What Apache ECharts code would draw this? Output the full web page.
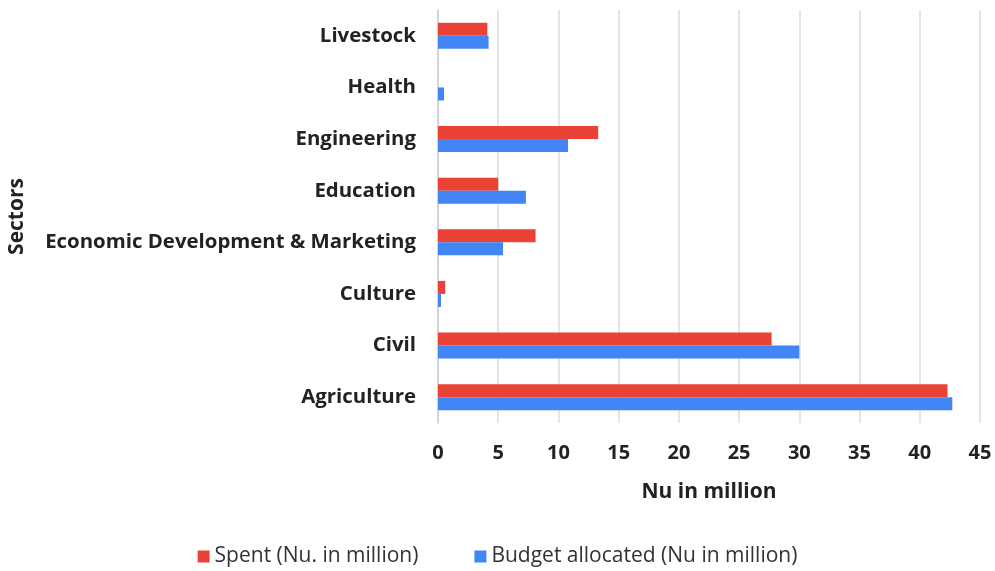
<!DOCTYPE html>
<html>
<head>
<meta charset="utf-8">
<script src="https://cdn.jsdelivr.net/npm/echarts@6/dist/echarts.min.js"></script>
<style>
  html, body { margin: 0; padding: 0; background: #fff; }
  #chart { width: 995px; height: 571px; }
</style>
</head>
<body>
<div id="chart"></div>
<script>
// sectors, bottom to top
const sectors = ['Agriculture', 'Civil', 'Culture', 'Economic Development & Marketing',
  'Education', 'Engineering', 'Health', 'Livestock'];
const spent = [42.3, 27.7, 0.6, 8.1, 5.0, 13.3, 0, 4.1];
const budget = [42.7, 30.0, 0.25, 5.4, 7.3, 10.8, 0.5, 4.2];

const myChart = echarts.init(document.getElementById('chart'));

const labelFont = '"Open Sans", sans-serif';

const option = {
  animation: false,
  grid: { left: 438, right: 15, top: 10, bottom: 148, outerBoundsMode: 'none', containLabel: false },
  legend: {
    data: ['Spent (Nu. in million)', 'Budget allocated (Nu in million)'],
    bottom: -1,
    left: 'center',
    itemWidth: 12,
    itemHeight: 12,
    itemGap: 56,
    icon: 'rect',
    textStyle: { fontSize: 21, color: '#333', fontFamily: labelFont }
  },
  xAxis: {
    type: 'value',
    min: 0,
    max: 45,
    interval: 5,
    name: 'Nu in million',
    nameLocation: 'middle',
    nameGap: 59,
    nameTextStyle: { fontSize: 21, fontWeight: 'bold', color: '#222', fontFamily: labelFont },
    axisLine: { show: false },
    axisTick: { show: false },
    axisLabel: { fontSize: 20, fontWeight: 'bold', color: '#222', margin: 20, fontFamily: labelFont },
    splitLine: { lineStyle: { color: '#dcdcdc', width: 1.5 } }
  },
  yAxis: {
    type: 'category',
    data: sectors,
    name: 'Sectors',
    nameLocation: 'middle',
    nameGap: 410,
    nameRotate: 90,
    nameTextStyle: { fontSize: 21, fontWeight: 'bold', color: '#222', fontFamily: labelFont },
    axisLine: { lineStyle: { color: '#cfcfcf', width: 1.5 } },
    axisTick: { show: false },
    axisLabel: { fontSize: 20.4, fontWeight: 'bold', color: '#222', margin: 22, fontFamily: labelFont }
  },
  series: [
    {
      name: 'Spent (Nu. in million)',
      type: 'bar',
      data: spent,
      barWidth: 13,
      barGap: '0%',
      itemStyle: { color: '#EA4335' }
    },
    {
      name: 'Budget allocated (Nu in million)',
      type: 'bar',
      data: budget,
      barWidth: 13,
      barGap: '0%',
      itemStyle: { color: '#4285F4' }
    }
  ]
};
myChart.setOption(option);
</script>
</body>
</html>
